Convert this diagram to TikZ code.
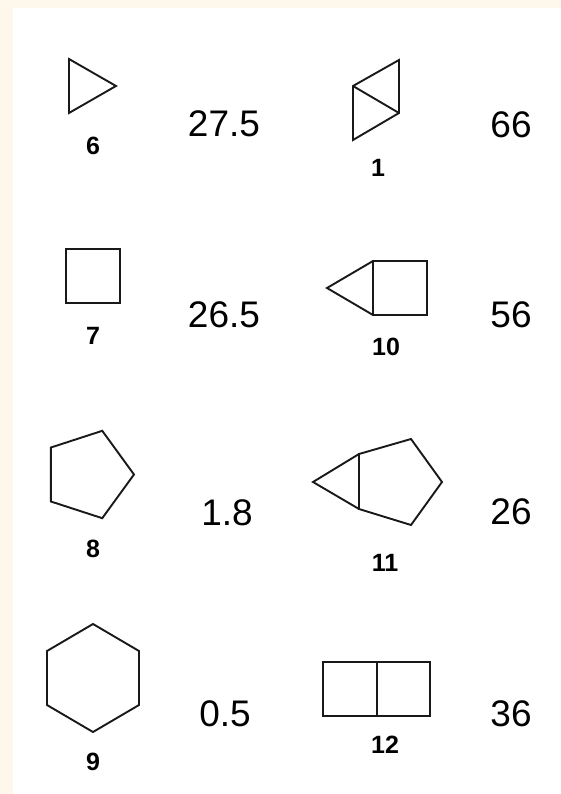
\documentclass[tikz,border=0pt]{standalone}
\usepackage{fontspec}
\setmainfont{Liberation Sans}
\definecolor{cream}{RGB}{253,248,235}
\begin{document}
\begin{tikzpicture}[x=1pt,y=-1pt,
  shp/.style={draw=black!90,line width=1.9pt,line join=miter},
  val/.style={inner sep=0pt,font=\fontsize{37}{40}\selectfont},
  lbl/.style={inner sep=0pt,font=\fontsize{25}{28}\selectfont\bfseries}]
\fill[cream] (0,0) rectangle (561,794);
\fill[white] (13,8) rectangle (561,794);
\useasboundingbox (0,0) rectangle (561,794);
% 6: triangle
\draw[shp] (69,59) -- (116,86) -- (69,113) -- cycle;
\node[lbl] (l6) at (93,146) {6};
\node[val] (v6) at (224,124) {27.5};
% 1: two triangles
\draw[shp] (399,60) -- (353,86) -- (353,140) -- (399,113) -- cycle;
\draw[shp] (353,86) -- (399,113);
\node[lbl] (l1) at (378,168) {1};
\node[val] (v1) at (511,125) {66};
% 7: square
\draw[shp] (66,249) rectangle (120,303);
\node[lbl] (l7) at (93,336) {7};
\node[val] (v7) at (224,315) {26.5};
% 10: triangle + square
\draw[shp] (373,261) rectangle (427,315);
\draw[shp] (373,261) -- (327,288) -- (373,315);
\node[lbl] (l10) at (386,347) {10};
\node[val] (v10) at (511,315) {56};
% 8: pentagon
\draw[shp] (88,474.5) ++(0:46) -- ++(126:54) -- ++(198:54) -- ++(270:54) -- ++(342:54) -- cycle;
\node[lbl] (l8) at (93,549) {8};
\node[val] (v8) at (227,513) {1.8};
% 11: triangle + pentagon
\draw[shp] (359,454) -- (411,439) -- (442,482) -- (411,525) -- (359,509) -- cycle;
\draw[shp] (359,454) -- (313,482) -- (359,509);
\node[lbl] (l11) at (385,563) {11};
\node[val] (v11) at (511,512) {26};
% 9: hexagon
\draw[shp] (93,624) -- (139,651) -- (139,705) -- (93,732) -- (47,705) -- (47,651) -- cycle;
\node[lbl] (l9) at (93,762) {9};
\node[val] (v9) at (225,714) {0.5};
% 12: two squares
\draw[shp] (323,662) rectangle (430,716);
\draw[shp] (377,662) -- (377,716);
\node[lbl] (l12) at (385,745) {12};
\node[val] (v12) at (511,714) {36};
\end{tikzpicture}
\end{document}
